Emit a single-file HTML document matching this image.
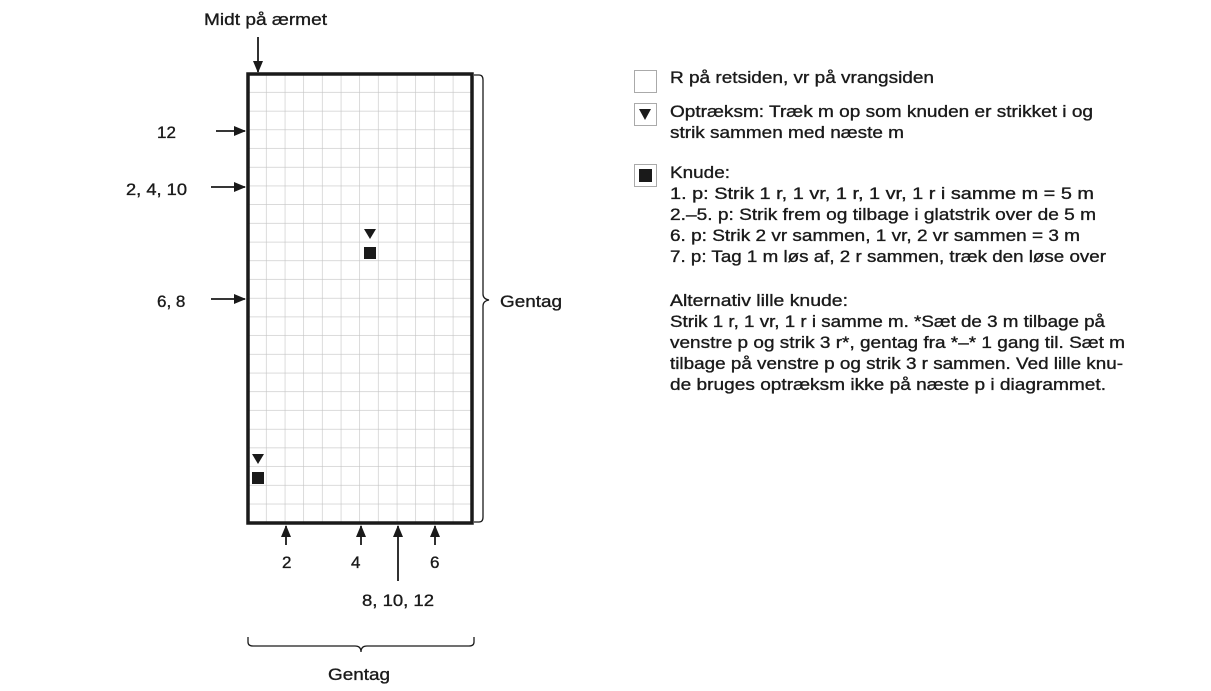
<!DOCTYPE html>
<html><head><meta charset="utf-8"><style>
html,body{margin:0;padding:0;background:#fff;}
svg{display:block;}
text{font-family:"Liberation Sans",sans-serif;font-size:17px;fill:#1a1a1a;stroke:#1a1a1a;stroke-width:0.35;}
</style></head><body>
<svg width="1211" height="691" viewBox="0 0 1211 691" xmlns="http://www.w3.org/2000/svg">
<defs>
<pattern id="g" x="248" y="74" width="18.67" height="18.71" patternUnits="userSpaceOnUse">
<path d="M18.67 0V18.71M0 18.71H18.67" stroke="#c4c4c4" stroke-width="1.2" fill="none"/>
</pattern>
<marker id="a" markerWidth="12" markerHeight="12" refX="11" refY="6" orient="auto" markerUnits="userSpaceOnUse">
<path d="M0 1L12 6L0 11Z" fill="#1a1a1a"/>
</marker>
</defs>
<rect x="248" y="74" width="224" height="449" fill="url(#g)"/>
<rect x="248" y="74" width="224" height="449" fill="none" stroke="#1a1a1a" stroke-width="3.5"/>
<path d="M474 75H479Q483 75 483 80V294Q483 299 489 300Q483 301 483 306V517Q483 522 479 522H474" fill="none" stroke="#1a1a1a" stroke-width="1.3"/>
<path d="M248 637V642Q248 646 253 646H355Q361 646 361 652Q361 646 367 646H469Q474 646 474 642V637" fill="none" stroke="#1a1a1a" stroke-width="1.3"/>
<path d="M252 454H264L258 464Z" fill="#1a1a1a"/>
<rect x="252" y="472" width="12" height="12" fill="#1a1a1a"/>
<path d="M364 229H376L370 239Z" fill="#1a1a1a"/>
<rect x="364" y="247" width="12" height="12" fill="#1a1a1a"/>
<g stroke="#1a1a1a" stroke-width="1.8" marker-end="url(#a)">
<line x1="258" y1="37" x2="258" y2="72"/>
<line x1="216" y1="131" x2="245" y2="131"/>
<line x1="211" y1="187" x2="245" y2="187"/>
<line x1="211" y1="299" x2="245" y2="299"/>
<line x1="286" y1="545" x2="286" y2="526"/>
<line x1="361" y1="545" x2="361" y2="526"/>
<line x1="398" y1="581" x2="398" y2="526"/>
<line x1="435" y1="545" x2="435" y2="526"/>
</g>
<text x="204" y="25" textLength="123" lengthAdjust="spacingAndGlyphs">Midt på ærmet</text>
<text x="157" y="138">12</text>
<text x="126" y="195" textLength="61" lengthAdjust="spacingAndGlyphs">2, 4, 10</text>
<text x="157" y="307">6, 8</text>
<text x="500" y="307" textLength="62" lengthAdjust="spacingAndGlyphs">Gentag</text>
<text x="282" y="568">2</text>
<text x="351" y="568">4</text>
<text x="430" y="568">6</text>
<text x="362" y="606" textLength="72" lengthAdjust="spacingAndGlyphs">8, 10, 12</text>
<text x="328" y="680" textLength="62" lengthAdjust="spacingAndGlyphs">Gentag</text>
<rect x="634.5" y="70.5" width="22" height="22" fill="#fff" stroke="#aaa" stroke-width="1"/>
<rect x="634.5" y="103.5" width="22" height="22" fill="#fff" stroke="#aaa" stroke-width="1"/>
<path d="M639 109H651L645 120Z" fill="#1a1a1a"/>
<rect x="634.5" y="164.5" width="22" height="22" fill="#fff" stroke="#aaa" stroke-width="1"/>
<rect x="639" y="169" width="13" height="13" fill="#1a1a1a"/>
<text x="670" y="83" textLength="264" lengthAdjust="spacingAndGlyphs">R på retsiden, vr på vrangsiden</text>
<text x="670" y="117" textLength="423" lengthAdjust="spacingAndGlyphs">Optræksm: Træk m op som knuden er strikket i og</text>
<text x="670" y="138" textLength="234" lengthAdjust="spacingAndGlyphs">strik sammen med næste m</text>
<text x="670" y="178" textLength="60" lengthAdjust="spacingAndGlyphs">Knude:</text>
<text x="670" y="199" textLength="424" lengthAdjust="spacingAndGlyphs">1. p: Strik 1 r, 1 vr, 1 r, 1 vr, 1 r i samme m = 5 m</text>
<text x="670" y="220" textLength="426" lengthAdjust="spacingAndGlyphs">2.–5. p: Strik frem og tilbage i glatstrik over de 5 m</text>
<text x="670" y="241" textLength="410" lengthAdjust="spacingAndGlyphs">6. p: Strik 2 vr sammen, 1 vr, 2 vr sammen = 3 m</text>
<text x="670" y="262" textLength="436" lengthAdjust="spacingAndGlyphs">7. p: Tag 1 m løs af, 2 r sammen, træk den løse over</text>
<text x="670" y="306" textLength="178" lengthAdjust="spacingAndGlyphs">Alternativ lille knude:</text>
<text x="670" y="327" textLength="435" lengthAdjust="spacingAndGlyphs">Strik 1 r, 1 vr, 1 r i samme m. *Sæt de 3 m tilbage på</text>
<text x="670" y="348" textLength="455" lengthAdjust="spacingAndGlyphs">venstre p og strik 3 r*, gentag fra *–* 1 gang til. Sæt m</text>
<text x="670" y="369" textLength="453" lengthAdjust="spacingAndGlyphs">tilbage på venstre p og strik 3 r sammen. Ved lille knu-</text>
<text x="670" y="390" textLength="436" lengthAdjust="spacingAndGlyphs">de bruges optræksm ikke på næste p i diagrammet.</text>
</svg>
</body></html>
